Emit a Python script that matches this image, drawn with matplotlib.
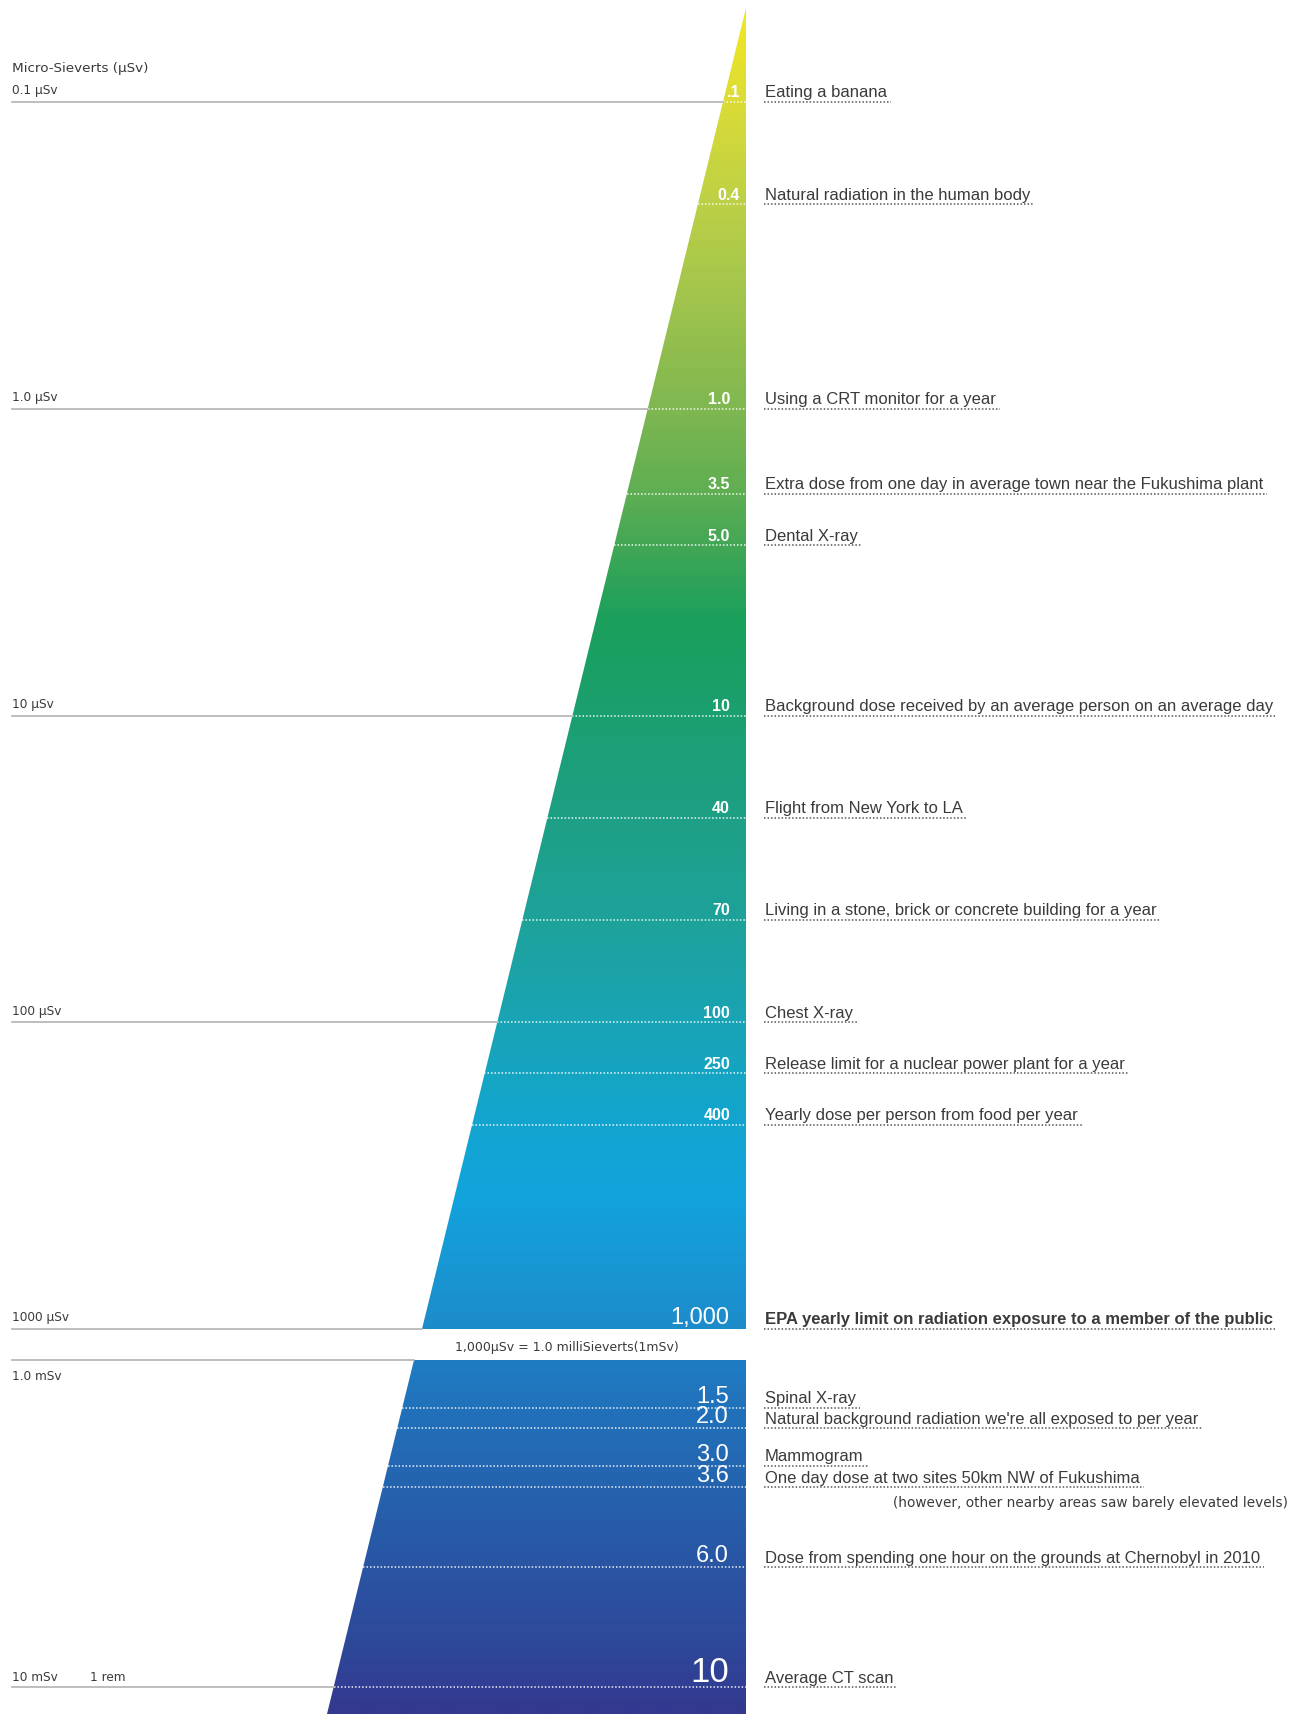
import numpy as np
import matplotlib
matplotlib.use('Agg')
import matplotlib.pyplot as plt
from matplotlib.colors import LinearSegmentedColormap
from matplotlib.patches import Polygon
from matplotlib.transforms import blended_transform_factory

W, H = 1301, 1715

# ---- data -------------------------------------------------------------
upper_values = [0.1, 0.4, 1.0, 3.5, 5.0, 10, 40, 70, 100, 250, 400, 1000]
upper_labels = ['.1', '0.4', '1.0', '3.5', '5.0', '10', '40', '70', '100', '250', '400', '1,000']
upper_descs = [
    'Eating a banana',
    'Natural radiation in the human body',
    'Using a CRT monitor for a year',
    'Extra dose from one day in average town near the Fukushima plant',
    'Dental X-ray',
    'Background dose received by an average person on an average day',
    'Flight from New York to LA',
    'Living in a stone, brick or concrete building for a year',
    'Chest X-ray',
    'Release limit for a nuclear power plant for a year',
    'Yearly dose per person from food per year',
    'EPA yearly limit on radiation exposure to a member of the public',
]
lower_values = [1.5, 2.0, 3.0, 3.6, 6.0, 10]
lower_labels = ['1.5', '2.0', '3.0', '3.6', '6.0', '10']
lower_descs = [
    'Spinal X-ray',
    "Natural background radiation we're all exposed to per year",
    'Mammogram',
    'One day dose at two sites 50km NW of Fukushima',
    'Dose from spending one hour on the grounds at Chernobyl in 2010',
    'Average CT scan',
]
decade_values = [0.1, 1.0, 10, 100, 1000]
decade_labels = ['0.1 \u00b5Sv', '1.0 \u00b5Sv', '10 \u00b5Sv', '100 \u00b5Sv', '1000 \u00b5Sv']
lower_top_label = '1.0 mSv'
lower_decade_value = 10
lower_decade_labels = ['10 mSv', '1 rem']
unit_title = 'Micro-Sieverts (\u00b5Sv)'
gap_note = '1,000\u00b5Sv = 1.0 milliSieverts(1mSv)'
fukushima_note = '(however, other nearby areas saw barely elevated levels)'
bold_desc = 'EPA yearly limit on radiation exposure to a member of the public'

# ---- layout -----------------------------------------------------------
UPPER_BOTTOM = 1330      # px from top
LOWER_TOP = 1361
APEX_X, APEX_Y = 746, 9
SLOPE = 0.2455           # wedge left edge, px of x per px of y
LEFT_X = 12
DESC_X = 765
TEXT_FONT = ['Liberation Sans', 'DejaVu Sans']
SIDE_FONT = ['DejaVu Sans']
DESC_COLOR = '#3a3a3a'
SIDE_COLOR = '#3a3a3a'
LOWER_POW = 0.8


def wedge_left(ypx):
    return APEX_X - SLOPE * (ypx - APEX_Y)


# decade-linear scale: decades equally spaced, linear inside each decade
def dec_fwd(v):
    v = np.asarray(v, dtype=float)
    out = np.full(v.shape, np.nan)
    ok = v > 0
    d = np.floor(np.log10(v[ok]) + 1e-12)
    out[ok] = d + (v[ok] / 10 ** d - 1) / 9
    return out


def dec_inv(p):
    p = np.asarray(p, dtype=float)
    d = np.floor(p)
    return 10 ** d * (1 + 9 * (p - d))


def pow_fwd(v):
    return np.power(np.clip(np.asarray(v, dtype=float), 0, None), LOWER_POW)


def pow_inv(u):
    return np.power(np.clip(np.asarray(u, dtype=float), 0, None), 1 / LOWER_POW)


grad_stops = [
    (0, '#f4e81f'), (100, '#dbdc36'), (200, '#bdd046'), (300, '#a0c44d'),
    (414, '#7db651'), (493, '#5fae53'), (546, '#42a756'), (620, '#1aa05b'),
    (717, '#1b9f70'), (820, '#1da085'), (918, '#1ea29a'), (1019, '#19a4b4'),
    (1125, '#12a5cf'), (1200, '#12a3dc'), (1330, '#1d8ccb'), (1361, '#1e7ec4'),
    (1406, '#2172bb'), (1493, '#2563af'), (1559, '#2957a5'), (1650, '#2e4899'),
    (1715, '#33398f'),
]
cmap = LinearSegmentedColormap.from_list('dose', [(p / H, c) for p, c in grad_stops])

fig = plt.figure(figsize=(W / 100, H / 100), dpi=100, facecolor='white')

# background wedge (gradient clipped to two trapezoids)
bg = fig.add_axes([0, 0, 1, 1], zorder=0)
grad = np.linspace(0, 1, H)[:, None]
shapes = [
    [(APEX_X, APEX_Y), (APEX_X, UPPER_BOTTOM), (wedge_left(UPPER_BOTTOM), UPPER_BOTTOM)],
    [(wedge_left(LOWER_TOP), LOWER_TOP), (APEX_X, LOWER_TOP), (APEX_X, H), (wedge_left(H), H)],
]
for pts in shapes:
    im = bg.imshow(grad, cmap=cmap, extent=(0, W, H, 0), origin='upper',
                   aspect='auto', interpolation='bilinear')
    poly = Polygon(pts, closed=True, transform=bg.transData, facecolor='none', edgecolor='none')
    bg.add_patch(poly)
    im.set_clip_path(poly)
bg.set_xlim(0, W)
bg.set_ylim(H, 0)
bg.axis('off')

# data axes
ax_up = fig.add_axes([0, (H - UPPER_BOTTOM) / H, 1, UPPER_BOTTOM / H], zorder=2)
ax_up.set_yscale('function', functions=(dec_fwd, dec_inv))
px_per_dec = (UPPER_BOTTOM - 103) / 4.0
top_pos = dec_fwd([0.1])[0] - 103 / px_per_dec
ax_up.set_ylim(1000, dec_inv(top_pos))

ax_lo = fig.add_axes([0, 0, 1, (H - LOWER_TOP) / H], zorder=2)
ax_lo.set_yscale('function', functions=(pow_fwd, pow_inv))
ax_lo.set_ylim(10.94, 0.463)

for ax in (ax_up, ax_lo):
    ax.set_xlim(0, 1)
    ax.set_facecolor('none')
    ax.axis('off')


def to_px(ax, v):
    return H - ax.transData.transform((0, v))[1]


renderer = fig.canvas.get_renderer()


def draw_rows(ax, values, labels, descs, big):
    blend = blended_transform_factory(fig.transFigure, ax.transData)
    for v, lab, desc in zip(values, labels, descs):
        ypx = to_px(ax, v)
        if ypx < UPPER_BOTTOM - 2 or ax is ax_lo:
            ax.plot([wedge_left(ypx) / W, APEX_X / W], [v, v], transform=blend,
                    color='white', lw=1.1, ls=(0, (1, 1.3)), alpha=0.9, clip_on=False)
        if big or lab == '1,000':
            size = 25 if lab == '10' else 17
            ax.annotate(lab, xy=(729 / W, v), xycoords=blend, xytext=(0, 4.5),
                        textcoords='offset points', ha='right', va='baseline',
                        fontsize=size, color='white', family=TEXT_FONT)
        else:
            right = 740 if ypx < 250 else 730
            ax.annotate(lab, xy=(right / W, v), xycoords=blend, xytext=(0, 4),
                        textcoords='offset points', ha='right', va='baseline',
                        fontsize=11.5, fontweight='bold', color='white', family=TEXT_FONT)
        t = ax.annotate(desc, xy=(DESC_X / W, v), xycoords=blend, xytext=(0, 4),
                        textcoords='offset points', ha='left', va='baseline',
                        fontsize=12, color=DESC_COLOR, family=TEXT_FONT,
                        fontweight='bold' if desc == bold_desc else 'normal')
        bb = t.get_window_extent(renderer)
        ax.plot([(bb.x0 - 1) / W, (bb.x1 + 4) / W], [v, v], transform=blend,
                color='#555555', lw=1.1, ls=(0, (1, 1.3)), clip_on=False)


draw_rows(ax_up, upper_values, upper_labels, upper_descs, big=False)
draw_rows(ax_lo, lower_values, lower_labels, lower_descs, big=True)

# gray scale lines on the left
blend_up = blended_transform_factory(fig.transFigure, ax_up.transData)
for v, lab in zip(decade_values, decade_labels):
    ypx = to_px(ax_up, v)
    ax_up.plot([LEFT_X / W, wedge_left(ypx) / W], [v, v], transform=blend_up,
               color='#b3b3b3', lw=1.2, clip_on=False)
    ax_up.annotate(lab, xy=(LEFT_X / W, v), xycoords=blend_up, xytext=(0, 4),
                   textcoords='offset points', ha='left', va='bottom',
                   fontsize=8.7, color=SIDE_COLOR, family=SIDE_FONT)
ax_up.annotate(unit_title, xy=(LEFT_X / W, decade_values[0]), xycoords=blend_up,
               xytext=(0, 20), textcoords='offset points', ha='left', va='bottom',
               fontsize=9.7, color=SIDE_COLOR, family=SIDE_FONT)

blend_lo_ax = blended_transform_factory(fig.transFigure, ax_lo.transAxes)
ax_lo.plot([LEFT_X / W, wedge_left(LOWER_TOP) / W], [1, 1], transform=blend_lo_ax,
           color='#b3b3b3', lw=1.2, clip_on=False)
ax_lo.annotate(lower_top_label, xy=(LEFT_X / W, 1), xycoords=blend_lo_ax,
               xytext=(0, -11.5), textcoords='offset points', ha='left', va='center',
               fontsize=8.7, color=SIDE_COLOR, family=SIDE_FONT)

blend_lo = blended_transform_factory(fig.transFigure, ax_lo.transData)
ypx = to_px(ax_lo, lower_decade_value)
ax_lo.plot([LEFT_X / W, wedge_left(ypx) / W], [lower_decade_value] * 2, transform=blend_lo,
           color='#b3b3b3', lw=1.2, clip_on=False)
for x, lab in zip([LEFT_X, 90], lower_decade_labels):
    ax_lo.annotate(lab, xy=(x / W, lower_decade_value), xycoords=blend_lo, xytext=(0, 3),
                   textcoords='offset points', ha='left', va='bottom',
                   fontsize=8.7, color=SIDE_COLOR, family=SIDE_FONT)

ax_lo.annotate(fukushima_note, xy=(1288 / W, lower_values[3]), xycoords=blend_lo,
               xytext=(0, -10.5), textcoords='offset points', ha='right', va='center',
               fontsize=9.8, color=SIDE_COLOR, family=SIDE_FONT)

fig.text(567 / W, 1 - 1348 / H, gap_note, ha='center', va='center',
         fontsize=9, color=SIDE_COLOR, family=SIDE_FONT)

fig.savefig('out.png', dpi=100, facecolor='white')
